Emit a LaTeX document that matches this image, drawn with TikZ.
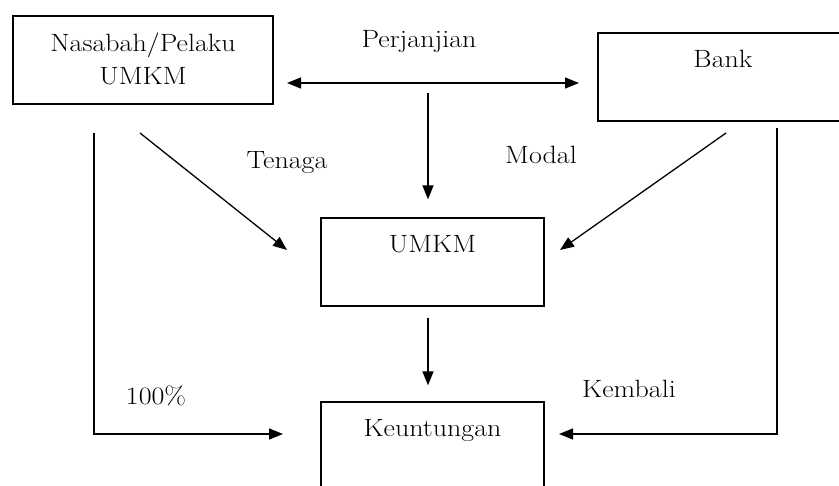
\documentclass[tikz,border=0pt]{standalone}
\usepackage{fontspec}
\setmainfont{Latin Modern Roman}[FakeStretch=1.12]
\usetikzlibrary{arrows.meta, positioning}

\begin{document}
\begin{tikzpicture}[
  x=1pt, y=-1pt,
  >={Triangle[length=14pt, width=11pt]}, line width=1.3pt,
  box/.style={draw, rectangle, minimum height=88pt, inner sep=0pt},
  boxtext/.style={anchor=north, inner sep=0pt, yshift=-17pt, align=center},
  every node/.style={font=\fontsize{25}{33}\selectfont}
]
\useasboundingbox (0,0) rectangle (839,486);
\clip (0,0) rectangle (839,486);

\node[box, minimum width=260pt] (nasabah) at (143,60) {};
\node[boxtext] (nasabahtxt) at (nasabah.north) {Nasabah/Pelaku\\UMKM};
\node[box, minimum width=250pt] (bank) at (723,77) {};
\node[boxtext] (banktxt) at (bank.north) {Bank};
\node[box, minimum width=223pt] (umkm) at (432.5,262) {};
\node[boxtext] (umkmtxt) at (umkm.north) {UMKM};
\node[box, minimum width=223pt] (untung) at (432.5,446) {};
\node[boxtext] (untungtxt) at (untung.north) {Keuntungan};

\node (perjanjian) at (419,42) {Perjanjian};
\node (tenaga) at (287,163) {Tenaga};
\node (modal) at (541,155) {Modal};
\node (persen) at (156,396) {100\%};
\node (kembali) at (629,389) {Kembali};

\coordinate (pjL) at (287,83);
\coordinate (pjR) at (579,83);
\coordinate (pjM) at (428,93);
\coordinate (tgA) at (140,133);
\coordinate (tgB) at (287,250);
\coordinate (mdA) at (726,133);
\coordinate (mdB) at (560,250);
\coordinate (kiriA) at (94,133);
\coordinate (kiriB) at (283,434);
\coordinate (kananA) at (777,128);
\coordinate (kananB) at (559,434);

\draw[<->] (pjL) -- (pjR);
\draw[->, shorten >=18pt] (pjM) -- (pjM |- umkm.north);
\draw[->] ([yshift=-11pt]umkm.south -| pjM) -- ([yshift=16pt]untung.north -| pjM);
\draw[->] (tgA) -- (tgB);
\draw[->] (mdA) -- (mdB);
\draw[->] (kiriA) |- (kiriB);
\draw[->] (kananA) |- (kananB);
\end{tikzpicture}
\end{document}
